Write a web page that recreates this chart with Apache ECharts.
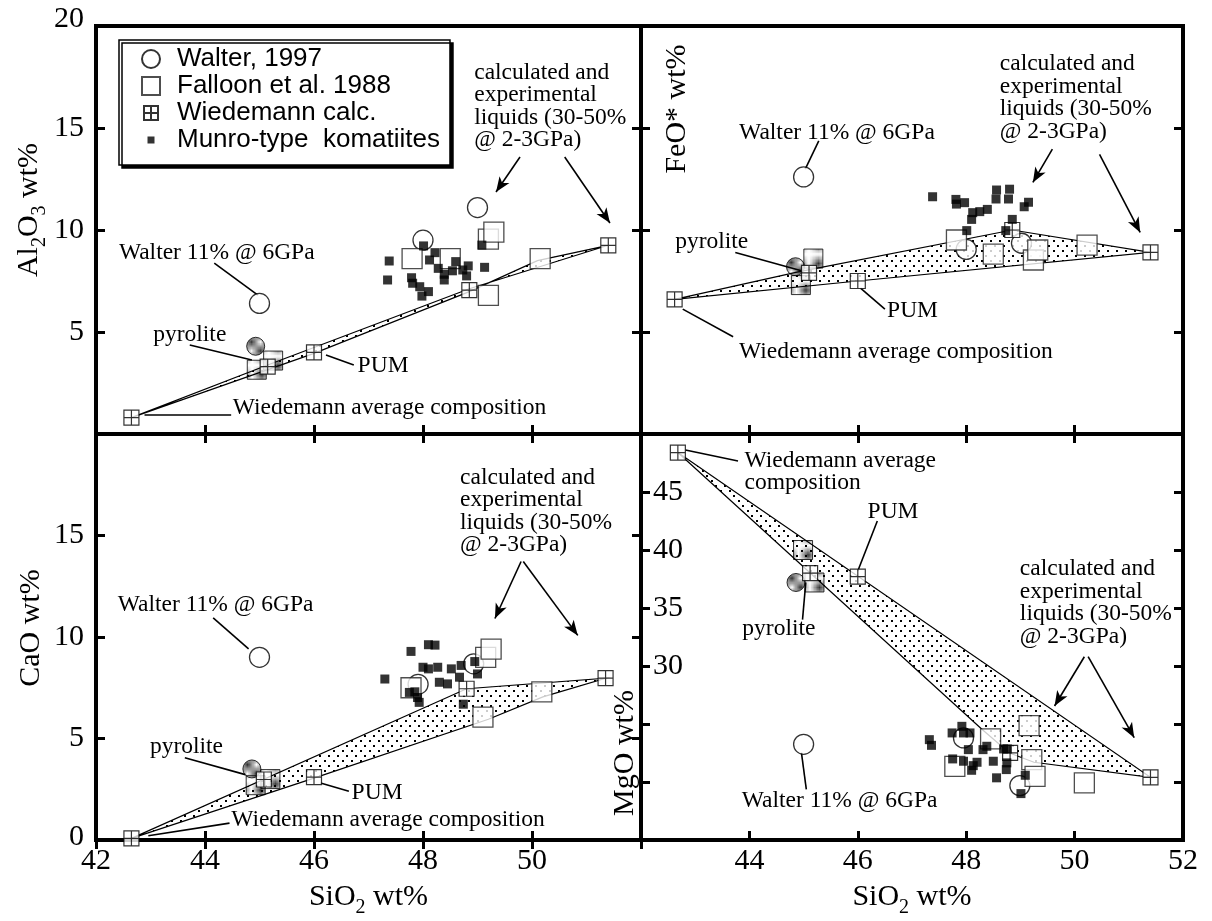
<!DOCTYPE html>
<html>
<head>
<meta charset="utf-8">
<script src="https://cdn.jsdelivr.net/npm/echarts@6/dist/echarts.min.js"></script>
<style>
  html, body { margin: 0; padding: 0; background: #fff; }
  #chart { width: 1212px; height: 921px; }
</style>
</head>
<body>
<div id="chart"></div>
<script>
// x is SiO2 wt% in every panel, y is the oxide of that panel

// --- Al2O3 panel ---
const walterAl = [[45.0, 6.4], [48.0, 9.5], [49.0, 11.1]];
const falloonAl = [[47.8, 8.6], [48.5, 8.6], [49.2, 9.55], [49.3, 9.9], [49.2, 6.8], [50.15, 8.6]];
const wiedAl = [[42.65, 0.8], [45.15, 3.3], [46.0, 4.0], [48.85, 7.05], [51.4, 9.25]];
const pyroCircleAl = [[44.93, 4.3]];
const pyroSquareAl = [[44.95, 3.15], [45.25, 3.6]];
const munroAl = [[47.38, 8.48], [47.35, 7.55], [48.01, 9.22], [48.22, 8.89], [48.12, 8.53], [48.28, 8.12],
  [48.39, 7.83], [48.39, 7.55], [47.79, 7.66], [47.81, 7.39], [47.94, 7.22], [48.10, 6.98], [47.98, 6.76],
  [48.60, 8.45], [48.54, 8.00], [48.73, 8.04], [48.83, 8.24], [48.80, 7.75], [49.13, 8.17], [49.08, 9.26]];
const fieldAl = [[42.65, 0.8], [45.15, 3.38], [48.85, 7.12], [51.4, 9.25], [50.1, 8.5], [48.85, 6.98], [46.0, 3.95]];
const notesAl = [
  ['calculated and\nexperimental\nliquids (30-50%\n@ 2-3GPa)', 48.94, 17.7],
  ['Walter 11% @ 6GPa', 42.42, 8.87],
  ['pyrolite', 43.05, 4.85],
  ['PUM', 46.8, 3.33],
  ['Wiedemann average composition', 44.51, 1.27]
];
const leadersAl = [
  [49.78, 13.58, 49.34, 11.86, 1], [50.6, 13.58, 51.43, 10.34, 1],
  [44.17, 8.38, 44.97, 6.81, 0], [43.72, 4.36, 44.86, 3.63, 0],
  [46.22, 3.87, 46.73, 3.38, 0], [42.89, 0.93, 44.48, 0.93, 0]
];

// --- FeO* panel ---
const walterFe = [[45.0, 12.6], [48.0, 9.05], [49.02, 9.35]];
const falloonFe = [[47.82, 9.51], [48.5, 8.82], [49.24, 8.53], [49.32, 9.02], [50.23, 9.26]];
const wiedFe = [[42.62, 6.6], [45.1, 7.9], [46.0, 7.5], [48.85, 10.0], [51.4, 8.9]];
const pyroCircleFe = [[44.85, 8.2]];
const pyroSquareFe = [[44.95, 7.3], [45.18, 8.6]];
const munroFe = [[47.38, 11.63], [47.81, 11.50], [47.82, 11.27], [47.97, 11.34], [48.12, 10.85], [48.10, 10.52],
  [48.25, 10.90], [48.39, 11.01], [48.56, 11.96], [48.80, 12.00], [48.55, 11.52], [48.78, 11.52],
  [49.15, 11.36], [49.07, 11.14], [48.85, 10.52], [48.01, 9.97], [48.73, 9.97]];
const fieldFe = [[42.62, 6.6], [44.9, 7.95], [48.85, 10.0], [51.4, 8.9], [46.0, 7.5]];
const notesFe = [
  ['Walter 11% @ 6GPa', 43.81, 14.77],
  ['calculated and\nexperimental\nliquids (30-50%\n@ 2-3GPa)', 48.62, 18.12],
  ['pyrolite', 42.63, 9.39],
  ['PUM', 46.54, 6.04],
  ['Wiedemann average composition', 43.81, 4.0]
];
const leadersFe = [
  [45.28, 14.37, 45.03, 12.98, 0], [49.59, 13.96, 49.23, 12.33, 1], [50.46, 13.71, 51.21, 9.88, 1],
  [43.74, 8.9, 44.96, 8.0, 0], [46.05, 7.15, 46.5, 6.12, 0], [42.77, 6.12, 43.7, 4.77, 0]
];

// --- CaO panel ---
const walterCa = [[45.0, 9.0], [47.91, 7.67], [48.93, 8.68]];
const falloonCa = [[47.78, 7.5], [49.15, 9.0], [49.25, 9.4], [49.1, 6.05], [50.18, 7.3]];
const wiedCa = [[42.65, 0.08], [45.08, 2.98], [46.0, 3.1], [48.8, 7.45], [51.35, 7.97]];
const pyroCircleCa = [[44.86, 3.5]];
const pyroSquareCa = [[44.93, 2.7], [45.2, 3.0]];
const munroCa = [[47.30, 7.93], [47.78, 9.29], [48.10, 9.62], [48.22, 9.60], [48.00, 8.51], [48.10, 8.43],
  [48.27, 8.51], [48.52, 8.43], [48.70, 8.60], [48.95, 8.79], [49.00, 8.18], [48.30, 7.77], [48.45, 7.69],
  [48.67, 8.02], [47.75, 7.27], [47.85, 7.30], [47.93, 6.78], [48.74, 6.69], [47.90, 7.02]];
const fieldCa = [[42.65, 0.08], [48.8, 7.45], [51.35, 7.97], [50.2, 7.05], [49.2, 5.95], [46.0, 3.05]];
const notesCa = [
  ['calculated and\nexperimental\nliquids (30-50%\n@ 2-3GPa)', 48.68, 17.85],
  ['Walter 11% @ 6GPa', 42.4, 11.57],
  ['pyrolite', 42.99, 4.6],
  ['PUM', 46.69, 2.31],
  ['Wiedemann average composition', 44.48, 0.96]
];
const leadersCa = [
  [49.8, 13.72, 49.32, 10.91, 1], [49.84, 13.72, 50.84, 10.08, 1],
  [44.15, 10.94, 44.8, 9.42, 0], [43.63, 4.05, 44.74, 3.22, 0],
  [46.12, 2.81, 46.64, 2.4, 0], [42.96, 0.21, 44.45, 0.83, 0]
];

// --- MgO panel ---
const walterMg = [[45.0, 23.25], [47.95, 23.8], [48.99, 19.69]];
const falloonMg = [[47.79, 21.35], [48.45, 23.71], [49.16, 24.86], [49.21, 21.93], [49.27, 20.49], [50.18, 19.92]];
const wiedMg = [[42.68, 48.4], [45.12, 38.0], [46.0, 37.7], [48.81, 22.51], [51.4, 20.4]];
const pyroCircleMg = [[44.86, 37.2]];
const pyroSquareMg = [[44.99, 40.0], [45.2, 37.2]];
const munroMg = [[47.32, 23.65], [47.36, 23.16], [47.74, 24.23], [47.92, 24.8], [47.95, 24.23], [48.07, 24.23],
  [48.04, 22.79], [48.31, 22.79], [48.38, 23.08], [47.75, 21.99], [47.95, 21.79], [48.13, 21.41],
  [48.20, 21.70], [48.10, 21.01], [48.50, 21.79], [48.56, 20.36], [48.69, 22.85], [48.76, 22.85],
  [48.75, 21.65], [48.74, 21.07], [49.09, 20.58], [49.01, 19.0]];
const fieldMg = [[42.68, 48.4], [51.4, 20.4], [49.25, 21.7], [48.8, 22.5], [48.3, 24.5]];
const notesMg = [
  ['Wiedemann average\ncomposition', 43.91, 47.67],
  ['PUM', 46.18, 43.28],
  ['pyrolite', 43.87, 33.16],
  ['calculated and\nexperimental\nliquids (30-50%\n@ 2-3GPa)', 48.99, 38.33],
  ['Walter 11% @ 6GPa', 43.86, 18.36]
];
const leadersMg = [
  [42.82, 48.62, 43.79, 47.67, 0], [46.36, 42.5, 46.0, 38.19, 0], [44.98, 34.0, 45.04, 37.2, 0],
  [50.18, 30.8, 49.63, 26.55, 1], [50.25, 30.8, 51.1, 23.82, 1], [44.96, 22.53, 45.05, 19.37, 0]
];

const SERIF = '"Liberation Serif", "Times New Roman", serif';
const SANS = '"Liberation Sans", Arial, sans-serif';
const WIED_PATH = 'path://M0,0h10v10h-10zM5,0v10M0,5h10';

function makePattern(w, h, dots) {
  const c = document.createElement('canvas');
  c.width = w; c.height = h;
  const g = c.getContext('2d');
  g.fillStyle = '#000';
  dots.forEach(d => g.fillRect(d[0], d[1], d[2], d[2]));
  return { image: c, repeat: 'repeat' };
}
const dotFill = makePattern(9, 10, [[0, 0, 2], [4, 5, 2]]);
const darkStipple = makePattern(2, 2, [[0, 0, 1], [1, 1, 1]]);
const lightStipple = makePattern(2, 2, [[0, 0, 1]]);

const panels = [
  { walter: walterAl, falloon: falloonAl, wied: wiedAl, munro: munroAl, pc: pyroCircleAl, ps: pyroSquareAl, field: fieldAl, notes: notesAl, leaders: leadersAl },
  { walter: walterFe, falloon: falloonFe, wied: wiedFe, munro: munroFe, pc: pyroCircleFe, ps: pyroSquareFe, field: fieldFe, notes: notesFe, leaders: leadersFe },
  { walter: walterCa, falloon: falloonCa, wied: wiedCa, munro: munroCa, pc: pyroCircleCa, ps: pyroSquareCa, field: fieldCa, notes: notesCa, leaders: leadersCa },
  { walter: walterMg, falloon: falloonMg, wied: wiedMg, munro: munroMg, pc: pyroCircleMg, ps: pyroSquareMg, field: fieldMg, notes: notesMg, leaders: leadersMg }
];

const tick = { show: true, inside: true, length: 9, lineStyle: { color: '#000', width: 3 } };
const labelFont = { fontFamily: SERIF, fontSize: 30, color: '#000' };
const nameRich = {
  n: { fontFamily: SERIF, fontSize: 30, lineHeight: 30, verticalAlign: 'top', color: '#000' },
  s: { fontFamily: SERIF, fontSize: 20, lineHeight: 20, verticalAlign: 'top', padding: [16, 0, 0, 0], color: '#000' }
};

function xAxis(grid, position, labelFn, name) {
  return {
    type: 'value', gridIndex: grid, position: position, min: 42, max: 52, interval: 2,
    axisLine: { show: false }, axisTick: tick, splitLine: { show: false },
    axisLabel: labelFn ? Object.assign({ margin: 6, formatter: labelFn }, labelFont) : { show: false },
    name: name || '', nameLocation: 'middle', nameGap: 42,
    nameTextStyle: { rich: nameRich }
  };
}

function yAxis(grid, position, min, max, labelCfg, nameCfg) {
  const ax = {
    type: 'value', gridIndex: grid, position: position, min: min, max: max, interval: 5,
    axisLine: { show: false }, axisTick: tick, splitLine: { show: false },
    axisLabel: labelCfg ? Object.assign({}, labelFont, labelCfg) : { show: false }
  };
  if (nameCfg) {
    ax.name = nameCfg.text;
    ax.nameLocation = 'middle';
    ax.nameRotate = 90;
    ax.nameGap = nameCfg.gap;
    ax.nameTextStyle = { padding: nameCfg.padding || 0, rich: nameRich };
  }
  return ax;
}

const grids = [
  { left: 96, top: 26, width: 545, height: 408 },
  { left: 641, top: 26, width: 542, height: 408 },
  { left: 96, top: 434, width: 545, height: 406 },
  { left: 641, top: 434, width: 542, height: 406 }
].map(g => Object.assign(g, { show: true, borderColor: '#000', borderWidth: 4, backgroundColor: 'transparent' }));

const xAxes = [
  xAxis(0, 'bottom'), xAxis(0, 'top'),
  xAxis(1, 'bottom'), xAxis(1, 'top'),
  xAxis(2, 'bottom', v => (v === 52 ? '' : v), '{n|SiO}{s|2}{n| wt%}'), xAxis(2, 'top'),
  xAxis(3, 'bottom', v => (v === 42 ? '' : v), '{n|SiO}{s|2}{n| wt%}'), xAxis(3, 'top')
];

const yAxes = [
  yAxis(0, 'left', 0, 20, {
    margin: 12, formatter: v => (v === 0 ? '' : v === 20 ? '{t|20}' : v),
    rich: { t: { fontFamily: SERIF, fontSize: 30, color: '#000', padding: [0, 0, 14, 0] } }
  }, { text: '{n|Al}{s|2}{n|O}{s|3}{n| wt%}', gap: 48, padding: [0, 0, 0, 40] }),
  yAxis(0, 'right', 0, 20),
  yAxis(1, 'left', 0, 20, null, { text: '{n|FeO* wt%}', gap: -51, padding: [0, 0, 0, 242] }),
  yAxis(1, 'right', 0, 20),
  yAxis(2, 'left', 0, 20, {
    margin: 12, formatter: v => (v === 20 ? '' : v === 0 ? '{b|0}' : v),
    rich: { b: { fontFamily: SERIF, fontSize: 30, color: '#000', padding: [0, 0, 6, 0] } }
  }, { text: '{n|CaO wt%}', gap: 50, padding: [0, 0, 0, 18] }),
  yAxis(2, 'right', 0, 20),
  yAxis(3, 'left', 15, 50, { inside: true, margin: 12, formatter: v => (v >= 30 && v <= 45 ? v : '') }, { text: '{n|MgO wt%}', gap: -45, padding: [0, 232, 0, 0] }),
  yAxis(3, 'right', 15, 50)
];

function scatter(i, name, data, symbol, size, style) {
  return {
    type: 'scatter', name: name, xAxisIndex: i * 2, yAxisIndex: i * 2, data: data,
    symbol: symbol, symbolSize: size, itemStyle: style, silent: true
  };
}

const series = [];
panels.forEach((p, i) => {
  series.push({
    type: 'custom', name: 'field' + i, xAxisIndex: i * 2, yAxisIndex: i * 2, silent: true,
    data: [[p.field[0][0], p.field[0][1]]],
    renderItem: (params, api) => ({
      type: 'polygon',
      shape: { points: p.field.map(pt => api.coord(pt)) },
      style: { fill: dotFill, stroke: '#000', lineWidth: 1.2 }
    })
  });
  series.push(scatter(i, 'pyrolite start', p.pc, 'circle', 18, { color: darkStipple, borderColor: '#000', borderWidth: 1 }));
  series.push(scatter(i, 'pyrolite experiments', p.ps, 'rect', 19, { color: lightStipple, borderColor: '#000', borderWidth: 1 }));
  series.push(scatter(i, 'Walter, 1997', p.walter, 'circle', 20, { color: '#fff', borderColor: '#000', borderWidth: 1.3 }));
  series.push(scatter(i, 'Falloon et al. 1988', p.falloon, 'rect', 20, { color: '#fff', borderColor: '#222', borderWidth: 1.3 }));
  series.push(scatter(i, 'Wiedemann calc.', p.wied, WIED_PATH, 15, { color: '#fff', borderColor: '#000', borderWidth: 1.2 }));
  series.push(scatter(i, 'Munro-type  komatiites', p.munro, 'rect', 9, { color: '#000' }));
  series.push({
    type: 'custom', name: 'leaders' + i, xAxisIndex: i * 2, yAxisIndex: i * 2, silent: true,
    data: p.leaders.map(l => [l[0], l[1], l[2], l[3]]),
    renderItem: (params, api) => {
      const a = api.coord([api.value(0), api.value(1)]);
      const b = api.coord([api.value(2), api.value(3)]);
      const kids = [{ type: 'line', shape: { x1: a[0], y1: a[1], x2: b[0], y2: b[1] }, style: { stroke: '#000', lineWidth: 1.6 } }];
      if (p.leaders[params.dataIndex][4]) {
        const ang = Math.atan2(b[1] - a[1], b[0] - a[0]);
        const ux = Math.cos(ang), uy = Math.sin(ang);
        const L = 15, W = 6, N = 11;
        const bx = b[0] - ux * L, by = b[1] - uy * L;
        kids.push({
          type: 'polygon',
          shape: { points: [b, [bx - uy * W, by + ux * W], [b[0] - ux * N, b[1] - uy * N], [bx + uy * W, by - ux * W]] },
          style: { fill: '#000' }
        });
      }
      return { type: 'group', children: kids };
    }
  });
  series.push({
    type: 'custom', name: 'notes' + i, xAxisIndex: i * 2, yAxisIndex: i * 2, silent: true, z: 5,
    data: p.notes.map(n => [n[1], n[2]]),
    renderItem: (params, api) => {
      const q = api.coord([api.value(0), api.value(1)]);
      return {
        type: 'text', x: q[0], y: q[1] - 11.5,
        style: {
          text: p.notes[params.dataIndex][0], fontFamily: SERIF, fontSize: 23.5,
          lineHeight: 22.5, fill: '#000', align: 'left', verticalAlign: 'top'
        }
      };
    }
  });
});

const chart = echarts.init(document.getElementById('chart'));
chart.setOption({
  animation: false,
  backgroundColor: '#fff',
  grid: grids,
  xAxis: xAxes,
  yAxis: yAxes,
  legend: {
    left: 119, top: 40, orient: 'vertical', selectedMode: false,
    data: [
      { name: 'Walter, 1997', icon: 'circle' },
      { name: 'Falloon et al. 1988', icon: 'rect' },
      { name: 'Wiedemann calc.', icon: 'path://M0,0M18,18M2,2h14v14h-14zM9,2v14M2,9h14' },
      { name: 'Munro-type  komatiites', icon: 'path://M0,0M18,18M5.5,5.5h7v7h-7z' }
    ],
    itemWidth: 18, itemHeight: 18, itemGap: 1,
    padding: [6, 10, 12, 22],
    backgroundColor: '#fff', borderColor: '#000', borderWidth: 1.5,
    shadowColor: '#000', shadowOffsetX: 3, shadowOffsetY: 3, shadowBlur: 0,
    textStyle: { fontFamily: SANS, fontSize: 26, lineHeight: 26, color: '#000', padding: [0, 0, 0, 12] }
  },
  series: series
});
</script>
</body>
</html>
